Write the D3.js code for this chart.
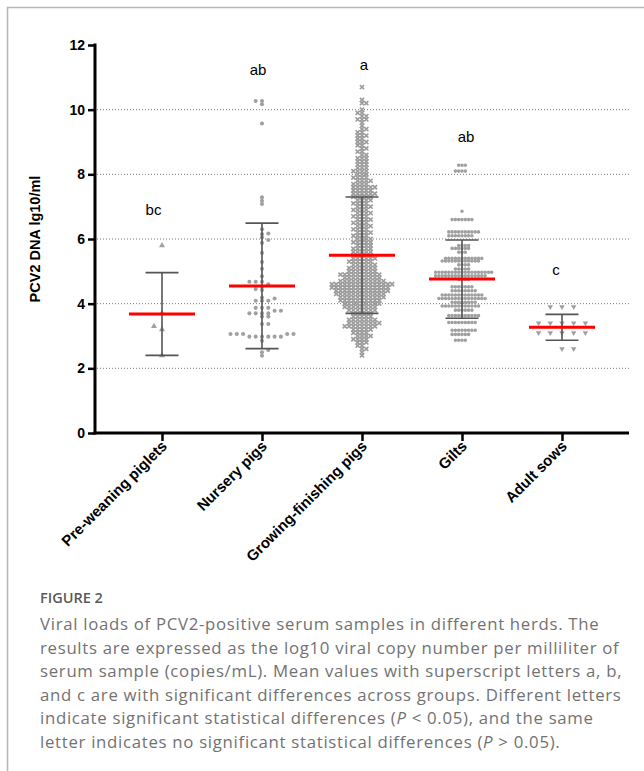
<!DOCTYPE html>
<html lang="en">
<head>
<meta charset="utf-8">
<title>PCV2 viral loads by herd</title>
<script src="https://cdn.jsdelivr.net/npm/d3@7"></script>
<style>
  body { margin: 0; background: #fff; }
  svg { display: block; }
</style>
</head>
<body>
<div id="chart"></div>
<script>
// categories on the x axis
var groups = ["Pre-weaning piglets", "Nursery pigs", "Growing-finishing pigs", "Gilts", "Adult sows"];
// significance letters and the value level they sit at
var letters = ["bc", "ab", "a", "ab", "c"];
var letterLevel = [6.74, 11.07, 11.22, 9.0, 4.88];
// mean and SD as drawn on the plot
var means = [3.68, 4.55, 5.50, 4.76, 3.27];
var sds = [1.28, 1.94, 1.80, 1.21, 0.40];
var yTicks = [0, 2, 4, 6, 8, 10, 12];

// samples (lg10 copies/ml)
var preweaning = [5.8, 3.7, 3.3, 3.2, 2.4];
var nursery = [10.27, 10.27, 10.17, 9.57, 7.29, 7.18, 7.08,
  6.30, 6.17, 6.15, 6.05, 5.97, 5.88, 5.57, 5.29, 5.08, 4.85,
  4.68, 4.68, 4.68, 4.60, 4.52, 4.45, 4.42, 4.19, 4.16, 4.09, 4.09, 4.09,
  3.87, 3.87, 3.87, 3.78, 3.78, 3.70, 3.70, 3.70, 3.70, 3.60, 3.60, 3.37, 3.37,
  3.06, 3.06, 3.06, 3.06, 3.06, 2.98, 2.98, 2.98, 2.98, 2.98, 2.98,
  2.85, 2.57, 2.50, 2.39];
// growing-finishing: value level / number of samples at that level
var gfLevels = [10.7, 10.3, 10.2, 10.0, 9.9, 9.8, 9.7, 9.6, 9.5, 9.4, 9.3, 9.2, 9.1, 9.0,
  8.9, 8.8, 8.7, 8.6, 8.5, 8.4, 8.3, 8.2, 8.1, 8.0, 7.9, 7.8, 7.7, 7.6, 7.5, 7.4, 7.3, 7.2, 7.1, 7.0,
  6.9, 6.8, 6.7, 6.6, 6.5, 6.4, 6.3, 6.2, 6.1, 6.0, 5.9, 5.8, 5.7, 5.6, 5.5, 5.4, 5.3, 5.2, 5.1, 5.0,
  4.9, 4.8, 4.7, 4.6, 4.5, 4.4, 4.3, 4.2, 4.1, 4.0, 3.9, 3.8, 3.7, 3.6, 3.5, 3.4, 3.3, 3.2, 3.1, 3.0,
  2.9, 2.8, 2.7, 2.6, 2.5, 2.4];
var gfCounts = [1, 1, 2, 1, 2, 2, 3, 1, 1, 2, 2, 3, 2, 3,
  2, 2, 2, 2, 3, 3, 3, 3, 4, 3, 4, 4, 4, 6, 5, 6, 5, 4, 4, 4,
  4, 4, 4, 4, 4, 4, 4, 4, 4, 4, 5, 4, 5, 5, 5, 6, 6, 6, 7, 7,
  10, 9, 11, 15, 14, 13, 12, 11, 10, 9, 8, 7, 5, 5, 7, 8, 8, 5, 4, 4,
  4, 3, 2, 2, 1, 1];
var giltLevels = [8.28, 8.10, 6.86, 6.60, 6.22, 6.10, 5.80, 5.71, 5.59, 5.40, 5.32, 5.20, 5.07,
  4.97, 4.86, 4.75, 4.52, 4.40, 4.27, 4.16, 4.04, 3.93, 3.80, 3.63, 3.42, 3.18, 3.05, 2.87];
var giltCounts = [3, 4, 1, 7, 10, 8, 4, 6, 3, 12, 12, 4, 5,
  18, 16, 4, 7, 8, 13, 15, 8, 12, 6, 10, 9, 8, 6, 4];
var sows = [3.9, 3.9, 3.9, 3.4, 3.4, 3.4, 3.4, 3.4, 3.1, 3.1, 3.1, 3.1, 3.1, 2.6, 2.6];

function expand(levels, counts) {
  var out = [];
  levels.forEach(function(v, i) {
    for (var k = 0; k < counts[i]; k++) out.push(v);
  });
  return out;
}

var samples = [preweaning, nursery, expand(gfLevels, gfCounts), expand(giltLevels, giltCounts), sows];

// marker style per group
var timesSym = d3.symbolTimes || d3.symbolX;
var markers = [
  { sym: d3.symbolTriangle, size: 16, step: 8, gap: 3.5, rot: 0, stroke: false },
  { sym: d3.symbolCircle, size: 13, step: 6.3, gap: 3.0, rot: 0, stroke: false },
  { sym: timesSym, size: 13, step: 4.3, gap: 2.5, rot: 0, stroke: true },
  { sym: d3.symbolCircle, size: 10, step: 3.3, gap: 2.5, rot: 0, stroke: false },
  { sym: d3.symbolTriangle, size: 13, step: 11.7, gap: 3.0, rot: 180, stroke: false }
];

var W = 644, H = 771;
var svg = d3.select("#chart").append("svg")
  .attr("width", W).attr("height", H);

// frame
svg.append("path")
  .attr("d", "M7.5," + H + "V7.5H" + W)
  .attr("fill", "none").attr("stroke", "#b8b8b8").attr("stroke-width", 1.6);

var y = d3.scaleLinear().domain([0, 12]).range([433, 45]);
var x = d3.scalePoint().domain(groups).range([95, 629]).padding(0.67);

// dotted gridlines
svg.append("g").selectAll("line")
  .data(yTicks.filter(function(t) { return t > 0 && t < 12; }))
  .enter().append("line")
  .attr("x1", 97).attr("x2", 629)
  .attr("y1", function(d) { return y(d); }).attr("y2", function(d) { return y(d); })
  .attr("stroke", "#7a7a7a").attr("stroke-width", 1).attr("stroke-dasharray", "1,2");

// simple slot beeswarm
function swarm(values, m) {
  var placed = [];
  values.slice().sort(d3.ascending).forEach(function(v) {
    var py = y(v);
    var flip = Math.round(v * 10) % 2 ? 1 : -1;
    for (var k = 0; k < 400; k++) {
      var slot = k === 0 ? 0 : (k % 2 ? -1 : 1) * Math.ceil(k / 2) * flip;
      var hit = placed.some(function(p) { return p.slot === slot && Math.abs(p.y - py) < m.gap; });
      if (!hit) { placed.push({ y: py, slot: slot }); break; }
    }
  });
  return placed;
}

var dots = svg.append("g");
samples.forEach(function(vals, i) {
  var m = markers[i];
  var cx = x(groups[i]);
  var sym = d3.symbol().type(m.sym).size(m.size);
  dots.append("g").selectAll("path")
    .data(swarm(vals, m))
    .enter().append("path")
    .attr("d", sym)
    .attr("transform", function(p) {
      return "translate(" + (cx + p.slot * m.step) + "," + p.y + ")" + (m.rot ? " rotate(" + m.rot + ")" : "");
    })
    .attr("fill", m.stroke ? "none" : "#a0a0a0")
    .attr("stroke", m.stroke ? "#9c9c9c" : "none")
    .attr("stroke-width", m.stroke ? 1.6 : 0);
});

// error bars (mean +/- SD)
var bars = svg.append("g").attr("stroke", "#555").attr("stroke-width", 1.6).attr("fill", "none");
groups.forEach(function(g, i) {
  var cx = x(g), top = y(means[i] + sds[i]), bot = y(means[i] - sds[i]);
  bars.append("path")
    .attr("d", "M" + cx + "," + top + "V" + bot +
      "M" + (cx - 16.5) + "," + top + "H" + (cx + 16.5) +
      "M" + (cx - 16.5) + "," + bot + "H" + (cx + 16.5));
});

// mean lines
svg.append("g").selectAll("line")
  .data(means).enter().append("line")
  .attr("x1", function(d, i) { return x(groups[i]) - 33; })
  .attr("x2", function(d, i) { return x(groups[i]) + 33; })
  .attr("y1", function(d) { return y(d); }).attr("y2", function(d) { return y(d); })
  .attr("stroke", "#ff0000").attr("stroke-width", 3);

// axes
var yAxis = svg.append("g").attr("transform", "translate(95,0)")
  .call(d3.axisLeft(y).tickValues(yTicks).tickSize(7).tickPadding(3).tickFormat(d3.format("d")));
var xAxis = svg.append("g").attr("transform", "translate(0,433)")
  .call(d3.axisBottom(x).tickSize(8).tickSizeOuter(0).tickFormat(""));

yAxis.select(".domain").attr("stroke", "#000").attr("stroke-width", 3)
  .attr("d", "M0,43.5V434.5");
xAxis.select(".domain").attr("stroke", "#000").attr("stroke-width", 3)
  .attr("d", "M93.5,0H629");
svg.selectAll(".tick line").attr("stroke", "#000").attr("stroke-width", 2.5);
yAxis.selectAll(".tick text")
  .attr("font-family", "'Liberation Sans', Arial, sans-serif")
  .attr("font-weight", "bold").attr("font-size", 14).attr("fill", "#000");

// rotated category labels
svg.append("g").selectAll("text")
  .data(groups).enter().append("text")
  .attr("transform", function(d) { return "translate(" + (x(d) + 6) + ",447) rotate(-45)"; })
  .attr("text-anchor", "end")
  .attr("font-family", "'Liberation Sans', Arial, sans-serif")
  .attr("font-weight", "bold").attr("font-size", 15)
  .text(function(d) { return d; });

// y title
svg.append("text")
  .attr("transform", "translate(40,239) rotate(-90)")
  .attr("text-anchor", "middle")
  .attr("font-family", "'Liberation Sans', Arial, sans-serif")
  .attr("font-weight", "bold").attr("font-size", 14.5)
  .text("PCV2 DNA lg10/ml");

// significance letters
var letterShift = [-8.5, -4, 2, 4, -6];
svg.append("g").selectAll("text")
  .data(letters).enter().append("text")
  .attr("x", function(d, i) { return x(groups[i]) + letterShift[i]; })
  .attr("y", function(d, i) { return y(letterLevel[i]); })
  .attr("text-anchor", "middle")
  .attr("font-family", "'Liberation Sans', Arial, sans-serif")
  .attr("font-size", 15)
  .text(function(d) { return d; });

// caption
var captionLines = [
  ["Viral loads of PCV2-positive serum samples in different herds. The"],
  ["results are expressed as the log10 viral copy number per milliliter of"],
  ["serum sample (copies/mL). Mean values with superscript letters a, b,"],
  ["and c are with significant differences across groups. Different letters"],
  ["indicate significant statistical differences (", "P", " < 0.05), and the same"],
  ["letter indicates no significant statistical differences (", "P", " > 0.05)."]
];
svg.append("text")
  .attr("x", 40).attr("y", 603)
  .attr("font-family", "'Open Sans', sans-serif")
  .attr("font-weight", 600).attr("font-size", 14.5)
  .attr("fill", "#5a5a5a")
  .text("FIGURE 2");
var cap = svg.append("text")
  .attr("font-family", "'Open Sans', sans-serif")
  .attr("font-size", 16.8).attr("letter-spacing", 0.7).attr("fill", "#727272");
captionLines.forEach(function(parts, i) {
  parts.forEach(function(p, j) {
    var t = cap.append("tspan").text(p);
    if (j === 0) t.attr("x", 40).attr("y", 630 + i * 23.5);
    if (p === "P") t.attr("font-style", "italic");
  });
});
</script>
</body>
</html>
